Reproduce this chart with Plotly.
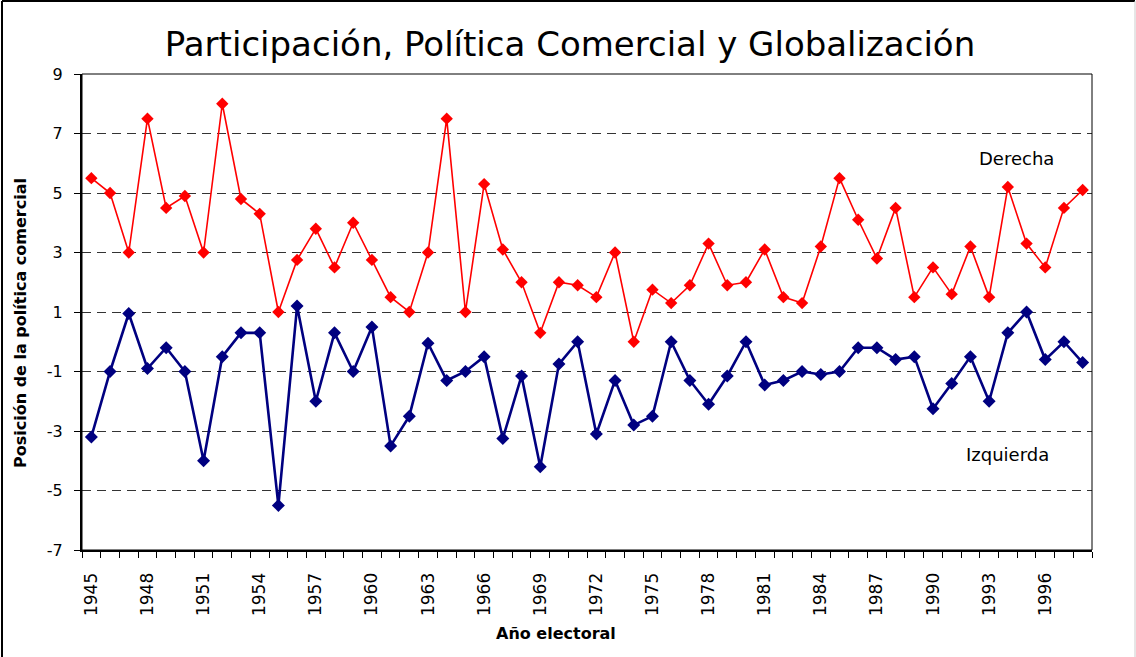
import plotly.graph_objects as go

years = list(range(1945, 1999))
derecha = [5.5, 5.0, 3.0, 7.5, 4.5, 4.9, 3.0, 8.0, 4.8, 4.3,
           1.0, 2.75, 3.8, 2.5, 4.0, 2.75, 1.5, 1.0, 3.0, 7.5,
           1.0, 5.3, 3.1, 2.0, 0.3, 2.0, 1.9, 1.5, 3.0, 0.0,
           1.75, 1.3, 1.9, 3.3, 1.9, 2.0, 3.1, 1.5, 1.3, 3.2,
           5.5, 4.1, 2.8, 4.5, 1.5, 2.5, 1.6, 3.2, 1.5, 5.2,
           3.3, 2.5, 4.5, 5.1]
izquierda = [-3.2, -1.0, 0.95, -0.9, -0.2, -1.0, -4.0, -0.5, 0.3, 0.3,
             -5.5, 1.2, -2.0, 0.3, -1.0, 0.5, -3.5, -2.5, -0.05, -1.3,
             -1.0, -0.5, -3.25, -1.15, -4.2, -0.75, 0.0, -3.1, -1.3, -2.8,
             -2.5, 0.0, -1.3, -2.1, -1.15, 0.0, -1.45, -1.3, -1.0, -1.1,
             -1.0, -0.2, -0.2, -0.6, -0.5, -2.25, -1.4, -0.5, -2.0, 0.3,
             1.0, -0.6, 0.0, -0.7]
x_ticks = list(range(1945, 1997, 3))
y_ticks = list(range(-7, 10, 2))
y_ticktext = [str(v) for v in y_ticks]

title = "Participación, Política Comercial y Globalización"
x_title = "Año electoral"
y_title = "Posición de la política comercial"

FONT = "DejaVu Sans"

fig = go.Figure()
fig.add_trace(go.Scatter(
    x=years, y=izquierda, mode="lines+markers", name="Izquierda",
    line=dict(color="#000080", width=2.6),
    marker=dict(symbol="diamond", size=10, color="#000080"),
))
fig.add_trace(go.Scatter(
    x=years, y=derecha, mode="lines+markers", name="Derecha",
    line=dict(color="#FF0000", width=1.6),
    marker=dict(symbol="diamond", size=9.5, color="#FF0000"),
))

fig.update_layout(
    width=1136, height=657,
    margin=dict(l=82, r=44, t=74, b=107),
    paper_bgcolor="white", plot_bgcolor="white",
    showlegend=False,
    font=dict(family=FONT, color="black"),
    title=dict(text=title, x=570 / 1136, xanchor="center",
               y=1 - 44 / 657, yanchor="middle",
               font=dict(family=FONT, size=34, color="black")),
    xaxis=dict(
        range=[1944.5, 1998.5], tickmode="array", tickvals=x_ticks,
        ticktext=[str(v) for v in x_ticks], tickangle=-90,
        ticks="", showgrid=False, zeroline=False,
        showline=True, linecolor="black", linewidth=2,
        tickfont=dict(family=FONT, size=17, color="black"),
        ticklabelstandoff=14,
        minor=dict(ticks="outside", tick0=1944.5, dtick=1, ticklen=6,
                   tickcolor="black", tickwidth=1, showgrid=False),
    ),
    yaxis=dict(
        range=[-7, 9], tickmode="array", tickvals=y_ticks, ticktext=y_ticktext,
        ticks="outside", ticklen=6, tickcolor="black", tickwidth=1,
        showgrid=True, gridcolor="#333", griddash="9px,6px", gridwidth=1,
        zeroline=False, showline=True, linecolor="black", linewidth=2,
        tickfont=dict(family=FONT, size=16, color="black"),
        ticklabelstandoff=8,
    ),
    annotations=[
        dict(text="Derecha", xref="paper", yref="y", x=(1016 - 82) / 1010, y=6.15,
             showarrow=False, xanchor="center", yanchor="middle",
             font=dict(family=FONT, size=18, color="black")),
        dict(text="Izquierda", xref="paper", yref="y", x=(1007.5 - 82) / 1010, y=-3.8,
             showarrow=False, xanchor="center", yanchor="middle",
             font=dict(family=FONT, size=18, color="black")),
        dict(text="<b>" + x_title + "</b>", xref="paper", yref="paper",
             x=(556 - 82) / 1010, y=(550 - 633) / 476,
             showarrow=False, xanchor="center", yanchor="middle",
             font=dict(family=FONT, size=16, color="black")),
        dict(text="<b>" + y_title + "</b>", xref="paper", yref="paper",
             x=(20 - 82) / 1010, y=(550 - 323) / 476, textangle=-90,
             showarrow=False, xanchor="center", yanchor="middle",
             font=dict(family=FONT, size=16, color="black")),
    ],
    shapes=[
        dict(type="rect", xref="paper", yref="paper", x0=0, x1=1, y0=0, y1=1,
             line=dict(color="black", width=1), layer="above"),
        dict(type="line", xref="paper", yref="paper",
             x0=(2 - 82) / 1010, x1=(2 - 82) / 1010, y0=(550 - 700) / 476, y1=(550 - 1) / 476,
             line=dict(color="black", width=2)),
        dict(type="line", xref="paper", yref="paper",
             x0=(2 - 82) / 1010, x1=(1135 - 82) / 1010, y0=(550 - 1) / 476, y1=(550 - 1) / 476,
             line=dict(color="black", width=2)),
        dict(type="line", xref="paper", yref="paper",
             x0=(1135 - 82) / 1010, x1=(1135 - 82) / 1010, y0=(550 - 700) / 476, y1=(550 - 1) / 476,
             line=dict(color="#cccccc", width=1)),
    ],
)

fig.write_html("out.html", config={"displayModeBar": False},
               post_script="document.body.style.margin='0';document.body.style.overflow='hidden';")
